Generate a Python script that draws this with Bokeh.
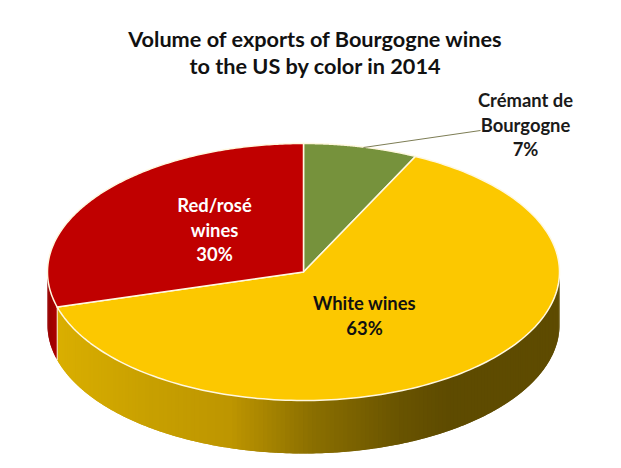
import numpy as np
from bokeh.plotting import figure
from bokeh.models import Range1d
from bokeh.core.properties import value
from bokeh.embed import file_html
from bokeh.resources import INLINE

# data
categories = ["Crémant de Bourgogne", "White wines", "Red/rosé wines"]
shares = [7.2, 63.4, 29.4]  # slice sizes as measured in the picture
top_colors = ["#76923C", "#FCC800", "#C00000"]
title_lines = ["Volume of exports of Bourgogne wines", "to the US by color in 2014"]
label_lines = [["Crémant de", "Bourgogne", "7%"], ["White wines", "63%"], ["Red/rosé", "wines", "30%"]]
label_colors = ["#1a1a1a", "#111111", "#ffffff"]

# layout (in page pixels)
W, H = 605, 458
cx, cy, rx, ry, depth = 303, 271.5, 256, 128.5, 53
label_anchor = [(525, 124), (364, 315), (214, 229)]
line_step = 24.5

p = figure(width=W, height=H, output_backend="svg", toolbar_location=None,
           x_range=Range1d(0, W), y_range=Range1d(H, 0),
           min_border=0, background_fill_color="white", border_fill_color="white",
           outline_line_color=None)
p.axis.visible = False
p.grid.visible = False


def px(t):
    return cx + rx * np.sin(t)


def py(t, dy=0.0):
    return cy - ry * np.cos(t) + dy


def lerp_color(stops, x):
    xs = [s[0] for s in stops]
    out = []
    for i in range(3):
        out.append(int(np.interp(x, xs, [s[1][i] for s in stops])))
    return "#%02x%02x%02x" % tuple(out)


edges = np.radians(np.cumsum([0] + shares) * 3.6)

# side walls: overlapping strips painted in order, so no seams show
wall_stops = [
    (57, (218, 175, 0)), (150, (200, 160, 0)), (230, (190, 150, 0)),
    (310, (140, 112, 0)), (400, (105, 84, 0)), (450, (94, 75, 0)), (559, (94, 75, 0)),
]
red_stops = [(47, (150, 0, 0)), (57, (175, 0, 0))]

for a, b, stops in [(np.pi / 2, edges[2], wall_stops), (edges[2], 3 * np.pi / 2, red_stops)]:
    n = max(int((b - a) / np.radians(1.0)), 2)
    ts = np.linspace(a, b, n + 1)
    step = ts[1] - ts[0]
    xs, ys, cols = [], [], []
    for k, t0 in enumerate(ts[:-1]):
        t1 = t0 + step
        t2 = min(t1 + step, b)
        tt = np.linspace(t0, t2, 4)
        xs.append(np.r_[px(tt), px(tt[::-1])])
        ys.append(np.r_[py(tt), py(tt[::-1], depth)])
        cols.append(lerp_color(stops, (px(t0) + px(t1)) / 2))
    p.patches(xs, ys, fill_color=cols, line_color=None)

# top slices
for i, c in enumerate(top_colors):
    ts = np.linspace(edges[i], edges[i + 1], 180)
    p.patch(np.r_[cx, px(ts)], np.r_[cy, py(ts)], fill_color=c, line_color="#fff8e0",
            line_width=1.5, line_join="round")

# white edge between red side and white side
p.line([px(edges[2])] * 2, [py(edges[2]), py(edges[2], depth)], line_color="#fff8e0", line_width=1)

# leader line
p.line([363, 480], [147, 130], line_color="#7d7d55", line_width=1)

# title
for i, t in enumerate(title_lines):
    p.text([315], [38 + i * 27], text=[t], text_align="center", text_baseline="middle",
           text_font=value("Lato"), text_font_style="bold", text_font_size="21.7px", text_color="#111111")

# labels
for lines, (lx, ly), col in zip(label_lines, label_anchor, label_colors):
    n = len(lines)
    for j, t in enumerate(lines):
        p.text([lx], [ly + (j - (n - 1) / 2) * line_step], text=[t], text_align="center",
               text_baseline="middle", text_font=value("Lato"), text_font_style="bold",
               text_font_size="18.4px", text_color=col)

open("out.html", "w").write(file_html(p, INLINE))
